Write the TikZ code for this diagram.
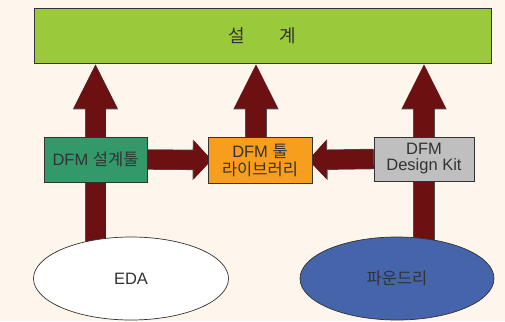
\documentclass[tikz,border=0pt]{standalone}
\usepackage{fontspec}
\setmainfont{Liberation Sans}
\newfontfamily\kr{Noto Sans CJK KR}
\usetikzlibrary{arrows.meta,shapes.geometric}
\pgfdeclarelayer{paperlayer}
\pgfdeclarelayer{bg}
\pgfsetlayers{paperlayer,bg,main}
\definecolor{paper}{HTML}{FEF6EC}
\definecolor{topgreen}{HTML}{9ACA3C}
\definecolor{toolgreen}{HTML}{33996A}
\definecolor{liborange}{HTML}{F89E1E}
\definecolor{kitgray}{HTML}{BFBFBF}
\definecolor{fblue}{HTML}{4564AA}
\definecolor{maroon}{HTML}{6D1012}
\definecolor{ink}{HTML}{333333}
\tikzset{
  box/.style={draw=ink, line width=0.7pt, inner sep=0pt, text=ink,
    font=\fontsize{16.5}{16}\selectfont, align=center},
  oval/.style={ellipse, draw=ink, line width=0.7pt, inner sep=0pt, text=ink,
    font=\fontsize{16.5}{16}\selectfont},
  uparrow/.style={draw=maroon, line width=20pt,
    -{Triangle[width=40pt,length=45pt]},
    preaction={draw=gray!60!black, line width=21.4pt,
      -{Triangle[width=41.6pt,length=46pt]}}},
  sidearrow/.style={draw=maroon, line width=19pt,
    -{Triangle[width=38pt,length=18pt]},
    preaction={draw=gray!60!black, line width=20.4pt,
      -{Triangle[width=39.6pt,length=19pt]}}}
}
\begin{document}
\begin{tikzpicture}[x=1pt,y=-1pt]
\begin{pgfonlayer}{paperlayer}
  \fill[paper] (0,0) rectangle (505,321);
\end{pgfonlayer}
\useasboundingbox (0,0) rectangle (505,321);

% boxes and sources
\node[box, fill=topgreen, minimum width=457pt, minimum height=55pt, font=\fontsize{18}{18}\selectfont] (design) at (262.5,35.5) {\kr 설\hspace{34pt}계};
\node[box, fill=toolgreen, minimum width=103pt, minimum height=45pt] (tool) at (95.5,159.5) {DFM {\kr 설계툴}};
\node[box, fill=liborange, minimum width=104pt, minimum height=46pt, font=\fontsize{16.5}{18}\selectfont] (lib) at (260,160) {DFM {\kr 툴}\\{\kr 라이브러리}};
\node[box, fill=kitgray, minimum width=100pt, minimum height=44pt] (kit) at (424,159) {DFM\\Design Kit};
\node[oval, fill=white, minimum width=195pt, minimum height=83pt] (eda) at (131,278.5) {EDA};
\node[oval, fill=fblue, minimum width=194pt, minimum height=83pt] (fab) at (397,278.5) {\kr 파운드리};

\coordinate (mid) at (256,0);

% flow arrows behind the boxes
\begin{pgfonlayer}{bg}
  \draw[uparrow] ([yshift=-6pt]tool.south |- eda.north) -- (tool.south |- design.south);
  \draw[uparrow] (lib.north -| mid) -- (design.south -| mid);
  \draw[uparrow] ([yshift=-6pt]kit.south |- fab.north) -- (kit.south |- design.south);
  \draw[sidearrow] (tool.east) -- ([xshift=4pt]lib.west);
  \draw[sidearrow] (kit.west) -- ([xshift=-4pt]lib.east);
\end{pgfonlayer}
\end{tikzpicture}
\end{document}
